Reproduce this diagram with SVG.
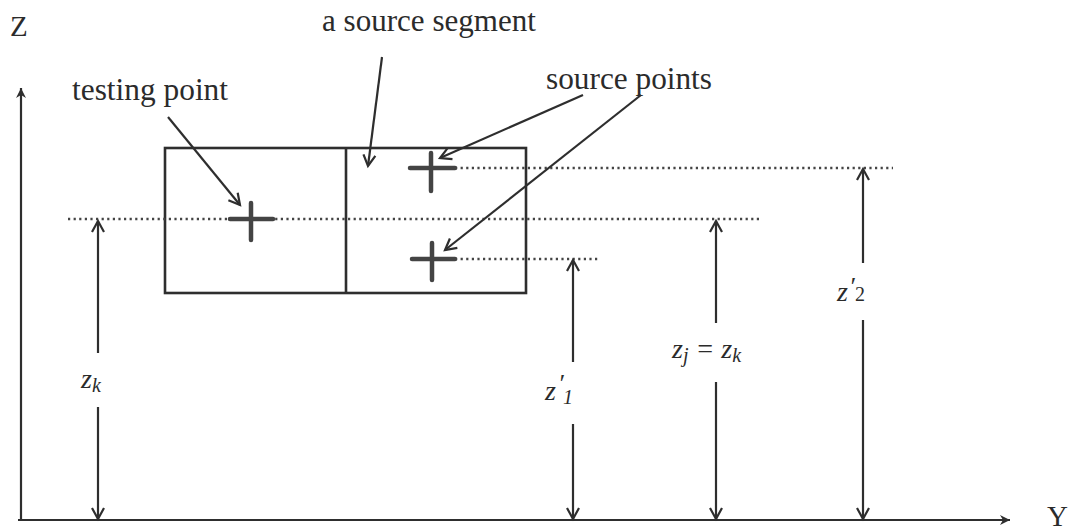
<svg xmlns="http://www.w3.org/2000/svg" width="1073" height="531" viewBox="0 0 1073 531">
<style>
.lbl{font-family:"Liberation Serif","DejaVu Serif","Times New Roman",serif;font-size:31px;fill:#2b2b2b}
.ax{font-family:"Liberation Serif","DejaVu Serif","Times New Roman",serif;font-size:29px;fill:#2b2b2b}
.m{font-family:"Liberation Serif","DejaVu Serif","Times New Roman",serif;font-style:italic;font-size:28px;fill:#2b2b2b}
.ln{stroke:#2e2e2e;stroke-width:2.2;fill:none}
.box{stroke:#2e2e2e;stroke-width:2.6;fill:none}
.dot{stroke:#444;stroke-width:2.4;stroke-dasharray:2.2 3.4;fill:none}
.cross{stroke:#444;stroke-width:4.5;stroke-linecap:round;fill:none}
</style>
<defs>
<marker id="v" markerUnits="userSpaceOnUse" markerWidth="14" markerHeight="14" refX="11" refY="6" orient="auto" overflow="visible">
<path d="M0,0 L11,6 L0,12" fill="none" stroke="#2e2e2e" stroke-width="2.2"/>
</marker>
<marker id="ah" markerUnits="userSpaceOnUse" markerWidth="14" markerHeight="14" refX="10" refY="5" orient="auto" overflow="visible">
<path d="M0,0 L10,5 L0,10 L3,5 Z" fill="#2e2e2e"/>
</marker>
</defs>
<rect width="1073" height="531" fill="#fff"/>

<g id="axes">
<line class="ln" x1="21" y1="521" x2="21" y2="88" marker-end="url(#ah)"/>
<line class="ln" x1="18" y1="520" x2="1010" y2="520" marker-end="url(#ah)"/>
<text class="ax" x="10" y="36">Z</text>
<text class="ax" x="1047" y="526">Y</text>
</g>

<g id="segments">
<rect class="box" x="165" y="148" width="361" height="145"/>
<line class="box" x1="346" y1="148" x2="346" y2="293"/>
</g>

<g id="dotted">
<line class="dot" x1="68" y1="219" x2="760" y2="219"/>
<line class="dot" x1="455" y1="168" x2="893" y2="168"/>
<line class="dot" x1="455" y1="259" x2="600" y2="259"/>
</g>

<g id="testing-point">
<line class="cross" x1="230" y1="219" x2="273" y2="219"/>
<line class="cross" x1="251" y1="203" x2="251" y2="240"/>
</g>
<g id="source-point-1">
<line class="cross" x1="410" y1="168" x2="455" y2="168"/>
<line class="cross" x1="431" y1="153" x2="431" y2="191"/>
</g>
<g id="source-point-2">
<line class="cross" x1="412" y1="259" x2="455" y2="259"/>
<line class="cross" x1="432" y1="243" x2="432" y2="280"/>
</g>

<g id="labels">
<text class="lbl" x="72" y="100" textLength="156" lengthAdjust="spacingAndGlyphs">testing point</text>
<text class="lbl" x="322" y="31" textLength="214" lengthAdjust="spacingAndGlyphs">a source segment</text>
<text class="lbl" x="546" y="89" textLength="166" lengthAdjust="spacingAndGlyphs">source points</text>
</g>

<g id="connectors">
<line class="ln" x1="168" y1="117" x2="240" y2="205" marker-end="url(#v)"/>
<line class="ln" x1="382" y1="57" x2="368" y2="166" marker-end="url(#v)"/>
<line class="ln" x1="583" y1="95" x2="440" y2="158" marker-end="url(#v)"/>
<line class="ln" x1="641" y1="95" x2="445" y2="250" marker-end="url(#v)"/>

<line class="ln" x1="98" y1="353" x2="98" y2="221" marker-end="url(#v)"/>
<line class="ln" x1="98" y1="407" x2="98" y2="519" marker-end="url(#v)"/>

<line class="ln" x1="573" y1="362" x2="573" y2="260" marker-end="url(#v)"/>
<line class="ln" x1="573" y1="424" x2="573" y2="519" marker-end="url(#v)"/>

<line class="ln" x1="716" y1="323" x2="716" y2="221" marker-end="url(#v)"/>
<line class="ln" x1="716" y1="382" x2="716" y2="519" marker-end="url(#v)"/>

<line class="ln" x1="863" y1="263" x2="863" y2="169" marker-end="url(#v)"/>
<line class="ln" x1="863" y1="320" x2="863" y2="519" marker-end="url(#v)"/>
</g>

<g id="dim-labels">
<text class="m" x="81" y="388">z<tspan font-size="20" dy="4">k</tspan></text>
<text class="m" x="545" y="400">z<tspan x="558" y="392" font-size="26">′</tspan><tspan x="563" y="404" font-size="20">1</tspan></text>
<text class="m" x="672" y="358">z<tspan font-size="20" dy="4">j</tspan><tspan dy="-4"> = z</tspan><tspan font-size="20" dy="4">k</tspan></text>
<text class="m" x="837" y="301">z<tspan x="849" y="295" font-size="26">′</tspan><tspan x="855" y="301" font-style="normal" font-size="20">2</tspan></text>
</g>
</svg>
